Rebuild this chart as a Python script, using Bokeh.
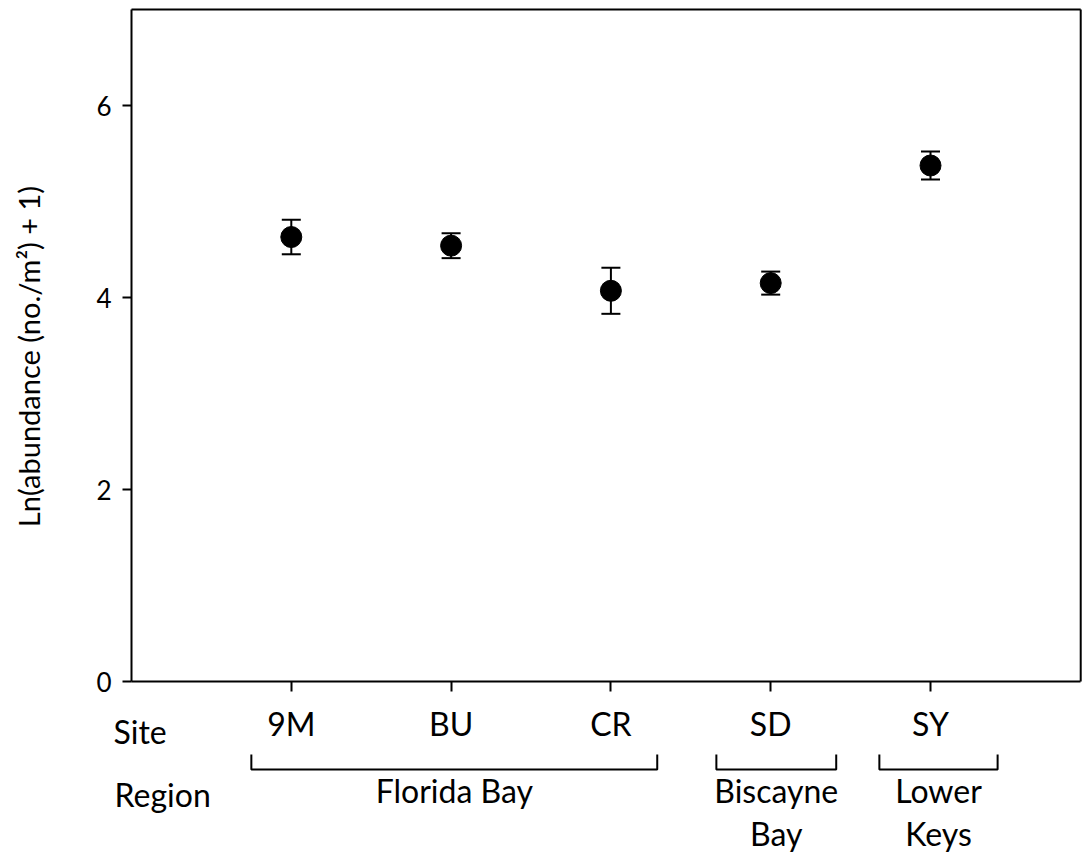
import math
from bokeh.plotting import figure
from bokeh.models import (ColumnDataSource, Range1d, FixedTicker, Whisker, TeeHead,
                          LinearAxis)
from bokeh.core.properties import value
from bokeh.embed import file_html
from bokeh.resources import INLINE

# ---- data ----
sites = ["9M", "BU", "CR", "SD", "SY"]
site_pos = [1, 2, 3, 4, 5]
means = [4.63, 4.54, 4.07, 4.15, 5.375]
se = [0.18, 0.13, 0.24, 0.12, 0.145]
y_ticks = [0, 2, 4, 6]

regions = [["Florida Bay"], ["Biscayne", "Bay"], ["Lower", "Keys"]]
region_start = [0.75, 3.66, 4.68]
region_end = [3.29, 4.41, 5.42]

FONT = "Lato"
X_MAX, Y_MAX = 5.94, 7.0

# layout: frame spans the whole canvas; axes are pinned at x=0 / y=0
W, H = 1082, 858
PX, PY = 159.8, 96.0          # pixels per data unit
x0 = -131 / PX
y1 = Y_MAX + 9 / PY

src = ColumnDataSource(dict(
    x=site_pos, y=means,
    lower=[m - s for m, s in zip(means, se)],
    upper=[m + s for m, s in zip(means, se)],
))

p = figure(width=W, height=H, output_backend="svg", toolbar_location=None,
           x_range=Range1d(x0, x0 + W / PX), y_range=Range1d(y1 - H / PY, y1),
           x_axis_location=None, y_axis_location=None,
           min_border=0, min_border_left=0, min_border_right=0,
           min_border_top=0, min_border_bottom=0,
           background_fill_color="white", border_fill_color="white")
p.grid.visible = False
p.outline_line_color = None

# y axis
ya = LinearAxis(fixed_location=0, bounds=(0, Y_MAX),
                ticker=FixedTicker(ticks=y_ticks))
ya.minor_tick_line_color = None
ya.major_tick_in = 0
ya.major_tick_out = 9
ya.major_tick_line_width = 2
ya.axis_line_width = 2
ya.axis_line_color = "black"
ya.major_label_standoff = 11
ya.major_label_text_font = FONT
ya.major_label_text_font_size = "26px"
ya.major_label_text_color = "black"
p.add_layout(ya, "left")

# x axis
xa = LinearAxis(fixed_location=0, bounds=(0, X_MAX),
                ticker=FixedTicker(ticks=site_pos))
xa.major_label_overrides = {pos: s for pos, s in zip(site_pos, sites)}
xa.minor_tick_line_color = None
xa.major_tick_in = 0
xa.major_tick_out = 10
xa.major_tick_line_width = 2
xa.axis_line_width = 2
xa.axis_line_color = "black"
xa.major_label_standoff = 12
xa.major_label_text_font = FONT
xa.major_label_text_font_size = "32px"
xa.major_label_text_color = "black"
p.add_layout(xa, "below")

# top and right border of the plotting box
p.segment(x0=[0, X_MAX], y0=[Y_MAX, 0], x1=[X_MAX, X_MAX], y1=[Y_MAX, Y_MAX],
          line_width=2, line_color="black")

# error bars + points
w = Whisker(base="x", lower="lower", upper="upper", source=src,
            line_width=2, line_color="black",
            upper_head=TeeHead(size=19, line_width=2, line_color="black"),
            lower_head=TeeHead(size=19, line_width=2, line_color="black"))
p.add_layout(w)
p.scatter("x", "y", source=src, size=21, color="black")

# y axis title
p.text(x=[-0.645], y=[3.385], text=["Ln(abundance (no./m\u00b2) + 1)"],
       angle=math.pi / 2, text_align="center", text_baseline="middle",
       text_font=value(FONT), text_font_size=value("29px"), text_color="black")

# row headers
p.text(x=[-0.1125, -0.106], y=[-0.526, -1.18], text=["Site", "Region"],
       text_align="left", text_baseline="alphabetic",
       text_font=value(FONT), text_font_size=value("32px"), text_color="black")

# region brackets
y_top, y_bot = -0.76, -0.917
bx, by = [], []
for s, e in zip(region_start, region_end):
    bx.append([s, s, e, e])
    by.append([y_top, y_bot, y_bot, y_top])
p.multi_line(xs=bx, ys=by, line_width=2, line_color="black")

line_y = [-1.14, -1.58]
tx, ty, tt = [], [], []
for lines, s, e in zip(regions, region_start, region_end):
    for i, t in enumerate(lines):
        tx.append((s + e) / 2)
        ty.append(line_y[i])
        tt.append(t)
p.text(x=tx, y=ty, text=tt, text_align="center", text_baseline="alphabetic",
       text_font=value(FONT), text_font_size=value("32px"), text_color="black")

open("out.html", "w").write(file_html(p, INLINE))
